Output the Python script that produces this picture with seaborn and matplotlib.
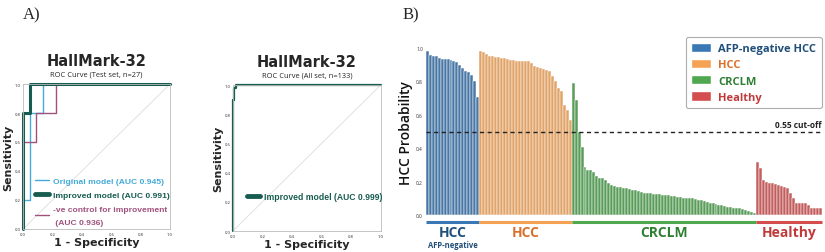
import matplotlib.pyplot as plt
import seaborn as sns
import pandas as pd
from matplotlib.patches import Patch
from matplotlib.lines import Line2D

sns.set_theme(style="white")
plt.rcParams['font.family'] = ['Open Sans', 'DejaVu Sans']

# ROC curves (panel A) - test set, n=27
test_orig_fpr = [0, 0, 0.045, 0.045, 0.136, 0.136, 1.0]
test_orig_tpr = [0, 0.2, 0.2, 0.8, 0.8, 1.0, 1.0]
test_impr_fpr = [0, 0, 0.045, 0.045, 1.0]
test_impr_tpr = [0, 0.8, 0.8, 1.0, 1.0]
test_ctrl_fpr = [0, 0, 0.09, 0.09, 0.227, 0.227, 1.0]
test_ctrl_tpr = [0, 0.6, 0.6, 0.8, 0.8, 1.0, 1.0]
test_labels = ['Original model (AUC 0.945)', 'Improved model (AUC 0.991)',
               '-ve control for improvement\n (AUC 0.936)']

# ROC all set, n=133
all_fpr = [0, 0, 0.005, 0.005, 0.01, 0.01, 0.02, 0.02, 1.0]
all_tpr = [0, 0.9, 0.9, 0.95, 0.95, 0.98, 0.98, 1.0, 1.0]
all_label = 'Improved model (AUC 0.999)'

# HCC probability per sample (panel B)
afp_neg = [0.98, 0.96, 0.955, 0.95, 0.94, 0.935, 0.935, 0.935, 0.93, 0.92, 0.915,
           0.90, 0.88, 0.86, 0.855, 0.84, 0.80, 0.71]
hcc = [0.98, 0.975, 0.965, 0.955, 0.95, 0.945, 0.945, 0.94, 0.94, 0.935, 0.93, 0.93,
       0.925, 0.925, 0.925, 0.92, 0.92, 0.91, 0.89, 0.885, 0.88, 0.875, 0.87, 0.86,
       0.83, 0.80, 0.76, 0.74, 0.66, 0.63, 0.57]
crclm = [0.79, 0.69, 0.50, 0.41, 0.29, 0.27, 0.27, 0.26, 0.235, 0.22, 0.22, 0.21,
         0.19, 0.18, 0.175, 0.17, 0.17, 0.165, 0.16, 0.155, 0.15, 0.15, 0.145, 0.14,
         0.135, 0.13, 0.13, 0.125, 0.125, 0.125, 0.12, 0.12, 0.12, 0.115, 0.115, 0.11,
         0.11, 0.105, 0.105, 0.10, 0.10, 0.095, 0.09, 0.09, 0.085, 0.08, 0.075, 0.07,
         0.065, 0.06, 0.06, 0.055, 0.05, 0.05, 0.045, 0.04, 0.04, 0.035, 0.03, 0.025,
         0.02, 0.015]
healthy = [0.32, 0.28, 0.21, 0.20, 0.19, 0.19, 0.185, 0.18, 0.175, 0.17, 0.16,
           0.13, 0.10, 0.075, 0.075, 0.075, 0.075, 0.06, 0.04, 0.04, 0.04, 0.04]
groups = ['AFP-negative HCC', 'HCC', 'CRCLM', 'Healthy']
group_labels = ['HCC', 'HCC', 'CRCLM', 'Healthy']
cutoff = 0.5

bar_colors = ['#3a77b5', '#f5a254', '#4fa84f', '#d44d4f']
text_colors = ['#1f4f7a', '#d9702c', '#2f7f33', '#c03a3c']
teal = '#175c50'
roc_colors = ['#45aad8', teal, '#a0527f']
leg_font = {'weight': 'bold', 'size': 6.1, 'family': 'Liberation Sans'}

fig = plt.figure(figsize=(8.25, 2.53), dpi=100)


def style_roc(ax, subtitle):
    ax.plot([0, 1], [0, 1], color='#dddddd', lw=0.6, zorder=0)
    ax.set_xlim(0, 1)
    ax.set_ylim(0, 1)
    ax.set_xticks([0, 0.2, 0.4, 0.6, 0.8, 1.0])
    ax.set_yticks([0, 0.2, 0.4, 0.6, 0.8, 1.0])
    ax.tick_params(labelsize=3, length=0, pad=2)
    for s in ax.spines.values():
        s.set_color('#bbbbbb')
        s.set_linewidth(0.6)
    ax.set_xlabel('1 - Specificity', fontsize=8, fontweight='bold', labelpad=1,
                  family='DejaVu Sans')
    ax.set_ylabel('Sensitivity', fontsize=8, fontweight='bold', labelpad=1,
                  family='DejaVu Sans')
    ax.text(0.5, 1.16, 'HallMark-32', transform=ax.transAxes, ha='center',
            va='center', fontsize=10.5, fontweight='bold', family='DejaVu Sans')
    ax.text(0.5, 1.07, subtitle, transform=ax.transAxes, ha='center',
            va='center', fontsize=5.4)


# ROC test set
ax1 = fig.add_axes([0.028, 0.091, 0.178, 0.573])
curves = [(test_orig_fpr, test_orig_tpr, 1.0), (test_ctrl_fpr, test_ctrl_tpr, 1.0),
          (test_impr_fpr, test_impr_tpr, 2.2)]
for (fx, ty, lw), col in zip(curves, [roc_colors[0], roc_colors[2], roc_colors[1]]):
    sns.lineplot(x=fx, y=ty, sort=False, estimator=None, color=col, lw=lw, ax=ax1,
                 clip_on=False)
style_roc(ax1, 'ROC Curve (Test set, n=27)')
handles = [Line2D([], [], color=c, lw=w) for c, w in zip(roc_colors, [1.0, 3.5, 1.0])]
leg = ax1.legend(handles, test_labels, loc='lower left', bbox_to_anchor=(0.06, 0.0),
                 borderaxespad=0, frameon=False, handlelength=1.6, handletextpad=0.5,
                 labelspacing=0.75, prop=leg_font)
for t, c in zip(leg.get_texts(), roc_colors):
    t.set_color(c)
    t.set_linespacing(2.2)

# ROC all set
ax2 = fig.add_axes([0.2824, 0.083, 0.179, 0.577])
sns.lineplot(x=all_fpr, y=all_tpr, sort=False, estimator=None, color=teal, lw=1.6,
             ax=ax2, clip_on=False)
style_roc(ax2, 'ROC Curve (All set, n=133)')
leg2 = ax2.legend([Line2D([], [], color=teal, lw=3.5)], [all_label], loc='lower left',
                  bbox_to_anchor=(0.07, 0.18), borderaxespad=0, frameon=False,
                  handlelength=1.5, handletextpad=0.45,
                  prop={'weight': 'bold', 'size': 6.2, 'family': 'Liberation Sans'})
leg2.get_texts()[0].set_color(teal)

# Bar chart
series = [afp_neg, hcc, crclm, healthy]
rows = []
for g, vals in zip(groups, series):
    for v in vals:
        rows.append({'sample': len(rows), 'prob': v, 'group': g})
df = pd.DataFrame(rows)

ax3 = fig.add_axes([0.516, 0.146, 0.48, 0.66])
sns.barplot(data=df, x='sample', y='prob', hue='group', hue_order=groups,
            palette=bar_colors, dodge=False, width=1.0, edgecolor='white',
            linewidth=0.35, legend=False, ax=ax3)
n = len(df)
ax3.set_xlim(-0.5, n - 0.5)
ax3.set_ylim(0, 1.0)
ax3.set_xticks([])
ax3.set_xlabel('')
ax3.set_yticks([0, 0.2, 0.4, 0.6, 0.8, 1.0])
ax3.tick_params(axis='y', labelsize=3.5, length=0, pad=2, labelcolor='#333333')
ax3.set_ylabel('HCC Probability', fontsize=10, labelpad=2, color='#111111',
               fontweight='semibold')
sns.despine(ax=ax3, left=True, bottom=True)

ax3.axhline(cutoff, color='#222222', ls=(0, (3, 2.5)), lw=1.0)
ax3.text(n - 0.5, cutoff + 0.015, '0.55 cut-off', ha='right', va='bottom',
         fontsize=6, fontweight='bold', color='#222222')

# group underline + labels
start = 0
for i, vals in enumerate(series):
    end = start + len(vals)
    ax3.plot([start - 0.5, end - 0.5], [-0.04, -0.04], color=bar_colors[i], lw=2.2,
             solid_capstyle='butt', clip_on=False)
    mid = (start + end - 1) / 2
    ax3.text(mid, -0.1, group_labels[i], ha='center', va='center', fontsize=10,
             fontweight='bold', color=text_colors[i])
    if i == 0:
        ax3.text(mid, -0.175, 'AFP-negative', ha='center', va='center', fontsize=5.5,
                 fontweight='bold', color=text_colors[i])
    start = end

patches = [Patch(facecolor=c) for c in bar_colors]
leg3 = ax3.legend(patches, groups, loc='upper right', bbox_to_anchor=(1.0, 1.065),
                  borderaxespad=0, handlelength=1.8, handleheight=0.95,
                  handletextpad=0.6, labelspacing=0.4, borderpad=0.5, fancybox=True,
                  edgecolor='#999999', prop={'weight': 'bold', 'size': 8})
leg3.get_frame().set_linewidth(0.8)
for t, c in zip(leg3.get_texts(), text_colors):
    t.set_color(c)

fig.text(0.028, 0.94, 'A)', fontsize=12, family='Liberation Serif', va='center')
fig.text(0.488, 0.94, 'B)', fontsize=12, family='Liberation Serif', va='center')

fig.savefig('out.png', dpi=100)
